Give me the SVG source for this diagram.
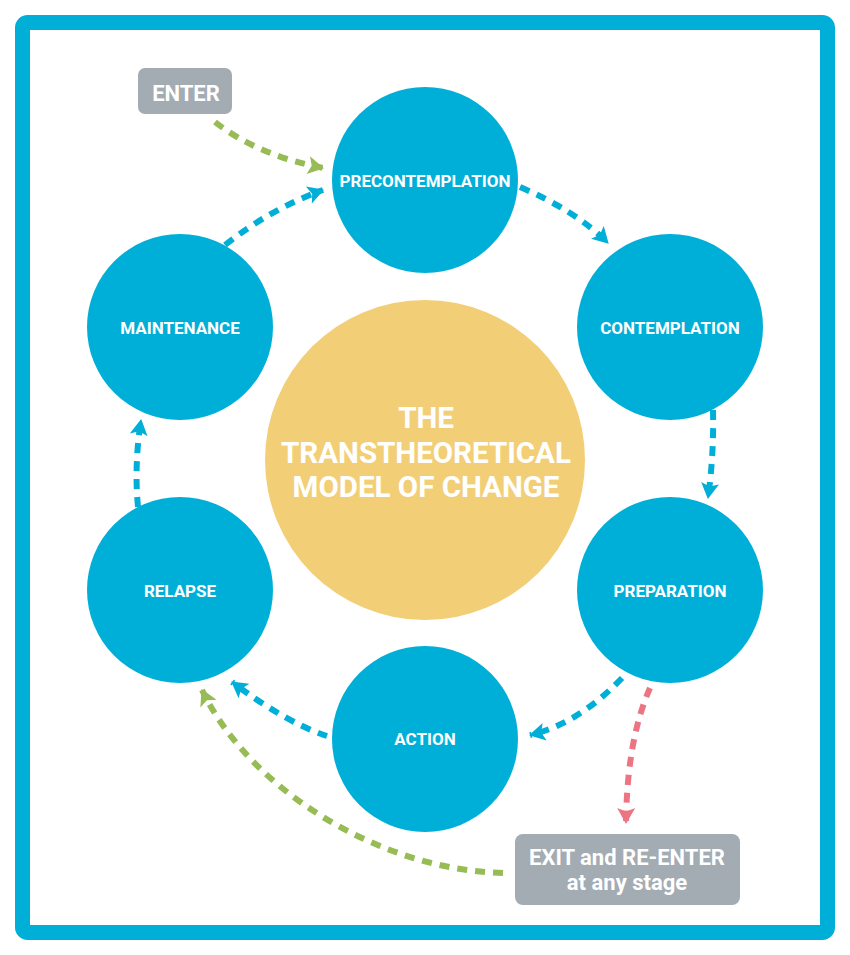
<svg xmlns="http://www.w3.org/2000/svg" width="850" height="955" viewBox="0 0 850 955">
<style>
.stage{fill:#00AFD8}
.lbl{font-family:Roboto,"Liberation Sans",sans-serif;font-weight:700;fill:#fff;text-anchor:middle}
.s{font-size:17px}
.t{font-size:29.5px}
.box{fill:#A3ABB3}
.cb{fill:none;stroke:#00AFD8;stroke-width:6;stroke-dasharray:10 8}
.cg{fill:none;stroke:#97BB55;stroke-width:6;stroke-dasharray:10 8}
.cp{fill:none;stroke:#EC7584;stroke-width:6;stroke-dasharray:10 8}
</style>
<defs>
<marker id="ab" markerUnits="userSpaceOnUse" markerWidth="22" markerHeight="22" viewBox="-2 -11 20 22" refX="15" refY="0" orient="auto"><path d="M0,-9 L16,0 L0,9 L3.5,0 z" fill="#00AFD8"/></marker>
<marker id="ag" markerUnits="userSpaceOnUse" markerWidth="22" markerHeight="22" viewBox="-2 -11 20 22" refX="15" refY="0" orient="auto"><path d="M0,-9 L16,0 L0,9 L3.5,0 z" fill="#97BB55"/></marker>
<marker id="ap" markerUnits="userSpaceOnUse" markerWidth="22" markerHeight="22" viewBox="-2 -11 20 22" refX="15" refY="0" orient="auto"><path d="M0,-9 L16,0 L0,9 L3.5,0 z" fill="#EC7584"/></marker>
</defs>
<rect x="22.5" y="22.5" width="805" height="910" rx="5" fill="#fff" stroke="#00AFD8" stroke-width="15"/>

<g id="connectors">
<path class="cg" d="M215,122 Q257,155 323,168" marker-end="url(#ag)"/>
<path class="cb" d="M520,187 Q576,211 608,243" marker-end="url(#ab)"/>
<path class="cb" d="M713,410 Q714,455 708,498" marker-end="url(#ab)"/>
<path class="cb" d="M622,678 Q578,724 530,735" marker-end="url(#ab)"/>
<path class="cb" d="M327,736 Q285,722 232,682" marker-end="url(#ab)"/>
<path class="cb" d="M138,507 Q134,465 141,420" marker-end="url(#ab)"/>
<path class="cb" d="M225,245 Q272,208 323,190" marker-end="url(#ab)"/>
<path class="cp" d="M650,688 Q627,740 626,823" marker-end="url(#ap)"/>
<path class="cg" d="M503,873 C380,870 250,790 202,690" marker-end="url(#ag)"/>
</g>

<g id="center">
<circle cx="425" cy="460" r="160" fill="#F2CF77"/>
<text class="lbl t" x="426" y="428">THE</text>
<text class="lbl t" x="426" y="463">TRANSTHEORETICAL</text>
<text class="lbl t" x="426" y="497">MODEL OF CHANGE</text>
</g>

<g id="precontemplation">
<circle class="stage" cx="425" cy="180" r="93"/>
<text class="lbl s" x="425" y="187">PRECONTEMPLATION</text>
</g>
<g id="contemplation">
<circle class="stage" cx="670" cy="327" r="93"/>
<text class="lbl s" x="670" y="334">CONTEMPLATION</text>
</g>
<g id="preparation">
<circle class="stage" cx="670" cy="590" r="93"/>
<text class="lbl s" x="670" y="597">PREPARATION</text>
</g>
<g id="action">
<circle class="stage" cx="425" cy="739" r="93"/>
<text class="lbl s" x="425" y="745">ACTION</text>
</g>
<g id="relapse">
<circle class="stage" cx="180" cy="590" r="93"/>
<text class="lbl s" x="180" y="597">RELAPSE</text>
</g>
<g id="maintenance">
<circle class="stage" cx="180" cy="327" r="93"/>
<text class="lbl s" x="180" y="334">MAINTENANCE</text>
</g>

<g id="enter">
<rect class="box" x="138" y="68" width="94" height="46" rx="7"/>
<text class="lbl" x="186" y="101" style="font-size:22px">ENTER</text>
</g>
<g id="exit">
<rect class="box" x="515" y="834" width="225" height="71" rx="8"/>
<text class="lbl" x="627" y="865" style="font-size:22px">EXIT and RE-ENTER</text>
<text class="lbl" x="627" y="890" style="font-size:22px">at any stage</text>
</g>
</svg>
